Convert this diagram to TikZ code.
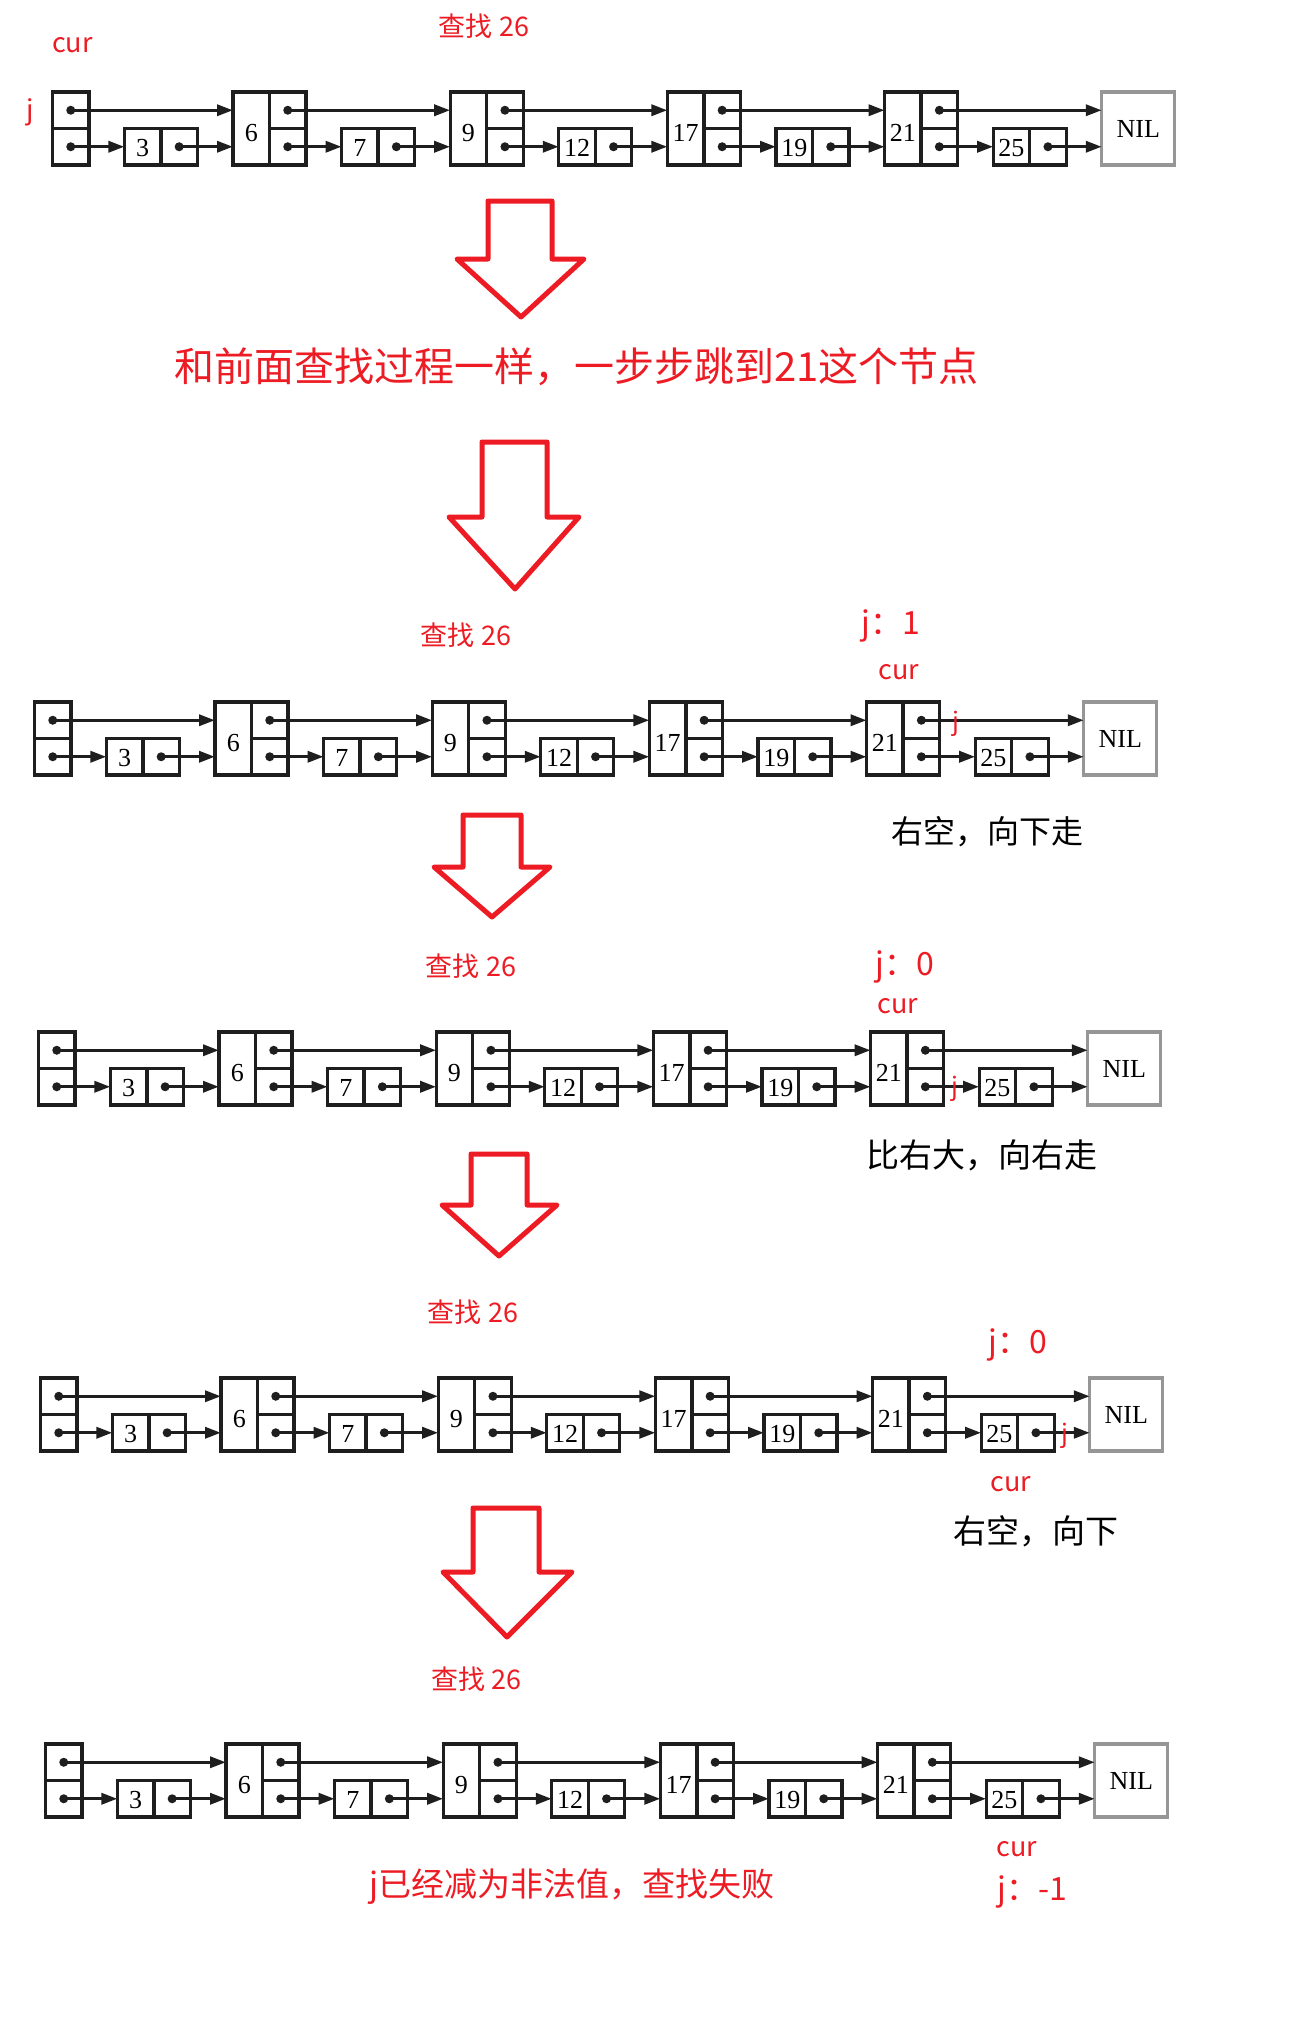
\documentclass[tikz,border=0pt]{standalone}
\usepackage{fontspec}
\setmainfont{Liberation Serif}
\newfontfamily\cjk{Noto Sans CJK SC}
\usetikzlibrary{arrows.meta}
\definecolor{myred}{RGB}{237,28,36}
\definecolor{nilgray}{RGB}{150,150,150}
\definecolor{ink}{RGB}{30,30,30}

\newcommand\skiprow[3]{%
\begin{scope}[shift={(#2,#3)}]
 \node[cell] (#1ha) at (70.75,110.25) {};
 \node[cell] (#1hb) at (70.75,146.75) {};
 \foreach \k/\v/\tl in {0/3/0,1/6/1,2/7/0,3/9/1,4/12/0,5/17/1,6/19/0,7/21/1,8/25/0}{
   \pgfmathsetmacro\kx{142.65+108.6*\k}
   \pgfmathsetmacro\px{\kx+36.5}
   \ifnum\tl=1
     \node[tallcell] (#1k\k) at (\kx,128.5) {};
     \node[keytxt] (#1v\k) at ([yshift=-4.5pt]#1k\k.center) {\v};
     \node[cell] (#1a\k) at (\px,110.25) {};
   \else
     \node[cell] (#1k\k) at (\kx,146.75) {};
     \node[keytxt] (#1v\k) at ([yshift=-1pt]#1k\k.center) {\v};
   \fi
   \node[cell] (#1b\k) at (\px,146.75) {};
 }
 \node[nilbox] (#1nil) at (1138.3,128.5) {NIL};
 \foreach \s/\d in {hb/k0,b0/k1,b1/k2,b2/k3,b3/k4,b4/k5,b5/k6,b6/k7,b7/k8,b8/nil,ha/k1,a1/k3,a3/k5,a5/k7,a7/nil}{
   \fill[ink] (#1\s.center) circle (4.5);
   \draw[ptr] (#1\s.center) -- (#1\s.center -| #1\d.west);
 }
\end{scope}}

\begin{document}
\begin{tikzpicture}[x=1pt,y=-1pt,
  cell/.style={draw=ink,line width=3.3pt,minimum width=36.5pt,minimum height=36.5pt,inner sep=0pt,outer sep=0pt},
  tallcell/.style={cell,minimum height=73pt},
  nilbox/.style={draw=nilgray,line width=3.3pt,minimum width=73pt,minimum height=73pt,inner sep=0pt,outer sep=0pt,font=\fontsize{26}{26}\selectfont},
  keytxt/.style={font=\fontsize{26}{26}\selectfont,inner sep=0pt},
  ptr/.style={draw=ink,line width=3.3pt,-{Triangle[length=16pt,width=11pt]}},
  redtxt/.style={text=myred,font=\cjk\fontsize{27}{27}\selectfont,inner sep=0pt,anchor=base},
  redbig/.style={redtxt,font=\cjk\fontsize{32}{32}\selectfont},
  blacktxt/.style={text=black,font=\cjk\fontsize{32}{32}\selectfont,inner sep=0pt},
  downarrow/.style={draw=myred,line width=5pt,line join=round}
]
\fill[white] (0,0) rectangle (1299,2039);
\useasboundingbox (0,0) rectangle (1299,2039);

% ---------- row 1 ----------
\skiprow{r1}{0}{0}
\node[redtxt] (l1cur) at (72.5,53) {cur};
\node[redtxt] (l1j) at (30,120) {j};
\node[redtxt] (l1find) at (484,36.5) {查找 26};

\draw[downarrow] (488,201) -- (552,201) -- (552,259) -- (584,259) -- (521,317) -- (457,259) -- (488,259) -- cycle;
\node[text=myred,font=\cjk\fontsize{40}{40}\selectfont,inner sep=0pt] (big) at (576.7,367) {和前面查找过程一样，一步步跳到21这个节点};
\draw[downarrow] (482,442) -- (547,442) -- (547,517) -- (579,517) -- (515,589) -- (449,517) -- (482,517) -- cycle;

% ---------- row 2 ----------
\skiprow{r2}{-18}{610}
\node[redtxt] (l2find) at (466,645) {查找 26};
\node[redbig] (l2j) at (891,634) {j：1};
\node[redtxt] (l2cur) at (898.7,679) {cur};
\node[redtxt,font=\cjk\fontsize{25}{25}\selectfont] (l2sj) at (955.5,730) {j};
\node[blacktxt] (l2txt) at (987,832) {右空，向下走};

\draw[downarrow] (463,815) -- (521,815) -- (521,867) -- (550,867) -- (492,917) -- (434,867) -- (463,867) -- cycle;

% ---------- row 3 ----------
\skiprow{r3}{-14}{940}
\node[redtxt] (l3find) at (471,976) {查找 26};
\node[redbig] (l3j) at (904.5,975) {j：0};
\node[redtxt] (l3cur) at (898,1013) {cur};
\node[redtxt,font=\cjk\fontsize{25}{25}\selectfont] (l3sj) at (955,1095) {j};
\node[blacktxt,font=\cjk\fontsize{33}{33}\selectfont] (l3txt) at (982,1155) {比右大，向右走};

\draw[downarrow] (471,1154) -- (527,1154) -- (527,1205) -- (557,1205) -- (499,1256) -- (442,1205) -- (471,1205) -- cycle;

% ---------- row 4 ----------
\skiprow{r4}{-12}{1286}
\node[redtxt] (l4find) at (473,1322) {查找 26};
\node[redbig] (l4j) at (1018,1353) {j：0};
\node[redtxt,font=\cjk\fontsize{25}{25}\selectfont] (l4sj) at (1064.5,1442) {j};
\node[redtxt] (l4cur) at (1011,1491) {cur};
\node[blacktxt,font=\cjk\fontsize{33}{33}\selectfont] (l4txt) at (1036,1531) {右空，向下};

\draw[downarrow] (473,1508) -- (539,1508) -- (539,1572) -- (572,1572) -- (507,1637) -- (443,1572) -- (473,1572) -- cycle;

% ---------- row 5 ----------
\skiprow{r5}{-7}{1652}
\node[redtxt] (l5find) at (476.5,1689) {查找 26};
\node[redtxt] (l5cur) at (1017,1856) {cur};
\node[redbig] (l5j) at (1032.6,1900) {j：-1};
\node[text=myred,font=\cjk\fontsize{33}{33}\selectfont,inner sep=0pt] (l5txt) at (572,1887) {j已经减为非法值，查找失败};
\end{tikzpicture}
\end{document}
